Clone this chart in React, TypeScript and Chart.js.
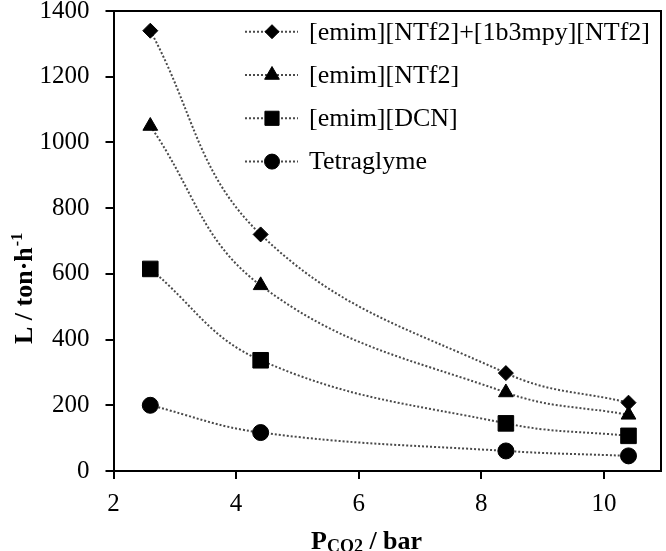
import React, { useEffect, useRef } from 'react';
import { Chart, registerables } from 'chart.js';
import { drawPoint } from 'chart.js/helpers';

Chart.register(...registerables);

const pressures = [2.6, 4.4, 8.4, 10.4];
const mixValues = [1340, 720, 298, 208];
const ntf2Values = [1050, 565, 239, 171];
const dcnValues = [615, 337, 145, 107];
const tetraglymeValues = [200, 117, 61, 46];
const seriesValues = [mixValues, ntf2Values, dcnValues, tetraglymeValues];
const seriesNames = ['[emim][NTf2]+[1b3mpy][NTf2]', '[emim][NTf2]', '[emim][DCN]', 'Tetraglyme'];
const pointStyles = ['rectRot', 'triangle', 'rect', 'circle'];
const pointRadii = [7.5, 8.5, 11, 8];
const legendRadii = [7, 8.5, 10, 7.5];
const xTickValues = [2, 4, 6, 8, 10];

const SERIF = '"Liberation Serif", "Times New Roman", serif';
const LINE_COLOR = '#4a4a4a';

const overlayPlugin = {
  id: 'overlay',
  afterDraw(chart: any) {
    const ctx = chart.ctx as CanvasRenderingContext2D;
    const a = chart.chartArea;
    ctx.save();
    // frame
    ctx.strokeStyle = '#000';
    ctx.lineWidth = 2;
    ctx.setLineDash([]);
    ctx.beginPath();
    ctx.moveTo(a.left, a.top);
    ctx.lineTo(a.right, a.top);
    ctx.lineTo(a.right, a.bottom);
    ctx.stroke();

    // legend
    const lx0 = 245, lx1 = 298, lxm = 272, tx = 309, ly0 = 31.7, dy = 43.3;
    chart.data.datasets.forEach((ds: any, i: number) => {
      const y = ly0 + i * dy;
      ctx.save();
      ctx.strokeStyle = LINE_COLOR;
      ctx.lineWidth = 2;
      ctx.setLineDash([2, 2]);
      ctx.beginPath();
      ctx.moveTo(lx0, y);
      ctx.lineTo(lx1, y);
      ctx.stroke();
      ctx.setLineDash([]);
      ctx.fillStyle = '#000';
      ctx.strokeStyle = '#000';
      ctx.lineWidth = 1;
      drawPoint(ctx, { pointStyle: ds.pointStyle, radius: legendRadii[i], rotation: 0, borderWidth: 1 } as any, lxm, y);
      ctx.restore();
      ctx.fillStyle = '#000';
      ctx.font = `26px ${SERIF}`;
      ctx.textBaseline = 'middle';
      ctx.textAlign = 'left';
      ctx.fillText(ds.label, tx, y + 1);
    });

    // x title: P_CO2 / bar
    ctx.fillStyle = '#000';
    ctx.textAlign = 'left';
    ctx.textBaseline = 'alphabetic';
    let x = 311;
    const base = 549;
    ctx.font = `bold 26px ${SERIF}`;
    ctx.fillText('P', x, base);
    x += ctx.measureText('P').width;
    ctx.font = `bold 18px ${SERIF}`;
    ctx.fillText('CO2', x, base + 3);
    x += ctx.measureText('CO2').width;
    ctx.font = `bold 26px ${SERIF}`;
    ctx.fillText(' / bar', x, base);

    // y title: L / ton·h^-1
    ctx.save();
    ctx.translate(32, 344);
    ctx.rotate(-Math.PI / 2);
    let yx = 0;
    ctx.font = `bold 26px ${SERIF}`;
    ctx.fillText('L / ton\u00B7h', yx, 0);
    yx += ctx.measureText('L / ton\u00B7h').width;
    ctx.font = `bold 16px ${SERIF}`;
    ctx.fillText('-1', yx + 1, -10);
    ctx.restore();

    ctx.restore();
  },
};

export default function App() {
  const ref = useRef<HTMLCanvasElement | null>(null);
  useEffect(() => {
    if (!ref.current) return;
    const datasets = seriesValues.map((vals, i) => ({
      label: seriesNames[i],
      data: vals.map((v, j) => ({ x: pressures[j], y: v })),
      borderColor: LINE_COLOR,
      borderWidth: 2,
      borderDash: [2, 2],
      backgroundColor: '#000',
      pointBackgroundColor: '#000',
      pointBorderColor: '#000',
      pointBorderWidth: 1,
      pointStyle: pointStyles[i],
      pointRadius: pointRadii[i],
      tension: 0.4,
      fill: false,
    }));
    const chart = new Chart(ref.current, {
      type: 'line',
      data: { datasets },
      options: {
        animation: false,
        responsive: false,
        maintainAspectRatio: false,
        layout: { autoPadding: false, padding: { left: 0, top: 11, right: 5, bottom: 0 } },
        plugins: { legend: { display: false }, tooltip: { enabled: false } },
        scales: {
          x: {
            type: 'linear',
            min: 2,
            max: 10.93,
            afterFit: (s: any) => { s.height = 80; s.paddingLeft = 0; s.paddingRight = 0; },
            afterBuildTicks: (s: any) => { s.ticks = xTickValues.map((v) => ({ value: v })); },
            grid: { drawOnChartArea: false, drawTicks: true, tickLength: 8, color: '#000', lineWidth: 2 },
            border: { display: true, color: '#000', width: 2 },
            ticks: { color: '#000', font: { family: SERIF, size: 25 }, padding: 10, maxRotation: 0, callback: (v: any) => String(v) },
          },
          y: {
            type: 'linear',
            min: 0,
            max: 1400,
            afterFit: (s: any) => { s.width = 113.5; s.paddingTop = 0; s.paddingBottom = 0; },
            grid: { drawOnChartArea: false, drawTicks: true, tickLength: 8, color: '#000', lineWidth: 2 },
            border: { display: true, color: '#000', width: 2 },
            ticks: { stepSize: 200, color: '#000', font: { family: SERIF, size: 25 }, padding: 16, callback: (v: any) => String(v) },
          },
        },
      },
      plugins: [overlayPlugin],
    });
    return () => chart.destroy();
  }, []);
  return (
    <div style={{ position: 'fixed', left: 0, top: 0, width: 666, height: 551, background: '#fff' }}>
      <canvas ref={ref} width={666} height={551} style={{ display: 'block' }} />
    </div>
  );
}
